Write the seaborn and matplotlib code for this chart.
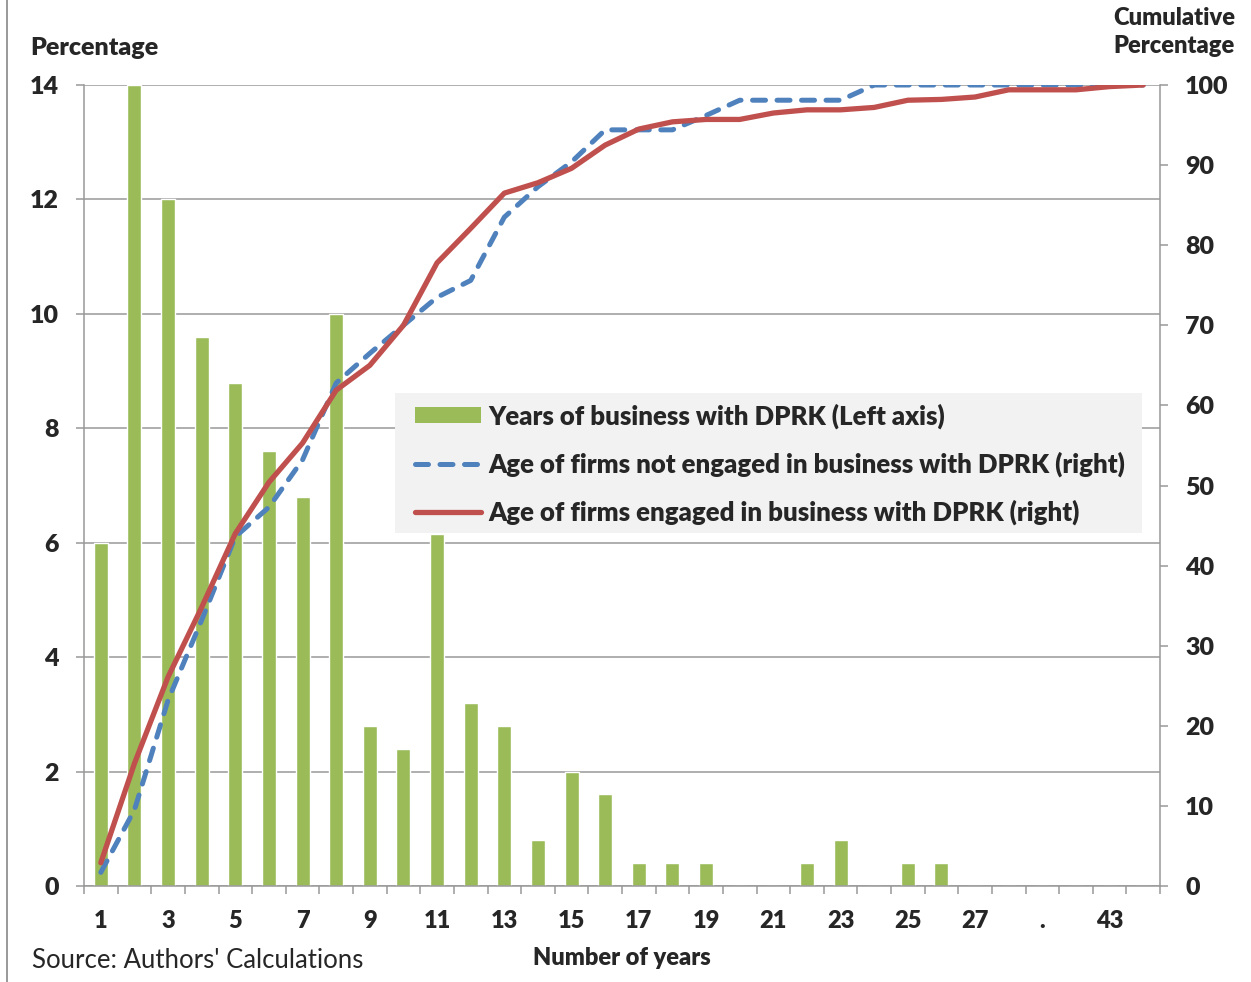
import numpy as np
import pandas as pd
import matplotlib
matplotlib.use("Agg")
import matplotlib.pyplot as plt
from matplotlib.lines import Line2D
from matplotlib.patches import Patch, Rectangle
import seaborn as sns

# categories on the x axis (one per year of age)
years = ["1", "2", "3", "4", "5", "6", "7", "8", "9", "10",
         "11", "12", "13", "14", "15", "16", "17", "18", "19", "20",
         "21", "22", "23", "24", "25", "26", "27", "28", ".", "40",
         "43", "48"]

# years of business with DPRK, % (left axis)
business_pct = [6.0, 14.0, 12.0, 9.6, 8.8, 7.6, 6.8, 10.0, 2.8, 2.4,
                6.15, 3.2, 2.8, 0.8, 2.0, 1.6, 0.4, 0.4, 0.4, 0.0,
                0.0, 0.4, 0.8, 0.0, 0.4, 0.4, 0.0, 0.0, 0.0, 0.0,
                0.0, 0.0]

# cumulative %, firms not engaged (right axis)
not_engaged_cum = [1.7, 9.5, 23.2, 33.2, 43.6, 47.3, 53.2, 62.8, 66.5, 70.0,
                   73.5, 75.6, 83.5, 87.3, 90.4, 94.4, 94.4, 94.4, 96.2, 98.1,
                   98.1, 98.1, 98.1, 100, 100, 100, 100, 100, 100, 100,
                   100, 100]

# cumulative %, firms engaged (right axis)
engaged_cum = [2.9, 15.3, 26.1, 34.8, 44.0, 50.4, 55.3, 61.9, 65.0, 70.0,
               77.8, 82.1, 86.5, 87.8, 89.6, 92.5, 94.5, 95.4, 95.7, 95.7,
               96.5, 96.9, 96.9, 97.2, 98.1, 98.2, 98.5, 99.4, 99.4, 99.4,
               99.8, 100]

GREEN = "#9BBB59"
BLUE = "#4F81BD"
RED = "#C0504D"
GREY = "#989898"
W = "heavy"

sns.set_theme(style="white")
plt.rcParams["font.family"] = ["Lato", "DejaVu Sans"]

df = pd.DataFrame({"year": years, "pos": np.arange(len(years)),
                   "bars": business_pct, "not_eng": not_engaged_cum,
                   "eng": engaged_cum})

fig = plt.figure(figsize=(12.51, 9.82), dpi=100)
ax = fig.add_axes([84 / 1251, 96 / 982, 1076 / 1251, 801 / 982])

sns.barplot(data=df, x="year", y="bars", order=years, color=GREEN,
            saturation=1, width=0.42, ax=ax, zorder=2)

ax2 = ax.twinx()
sns.lineplot(data=df, x="pos", y="not_eng", color=BLUE, lw=3.6,
             dashes=False, ax=ax2, zorder=3, sort=False)
ax2.lines[-1].set_dashes((2.6, 2.3))
ax2.lines[-1].set_dash_capstyle("round")
sns.lineplot(data=df, x="pos", y="eng", color=RED, lw=3.8, ax=ax2,
             zorder=4, sort=False)

# left axis
ax.set_xlim(-0.5, len(years) - 0.5)
ax.set_ylim(0, 14)
ax.set_yticks(np.arange(0, 15, 2))
ax.set_yticklabels([str(v) for v in range(0, 15, 2)], fontweight=W,
                   fontsize=18)
ax.yaxis.grid(True, color=GREY, lw=1.1)
ax.set_axisbelow(True)
ax.tick_params(axis="y", which="major", direction="out", length=6,
               width=1.1, color=GREY, pad=12, left=True)
ax.set_xlabel("")
ax.set_ylabel("")

# x axis: labels on every other category, ticks between categories
ax.set_xticks(np.arange(0, len(years), 2))
ax.set_xticklabels(years[::2], fontweight=W, fontsize=17)
ax.set_xticks(np.arange(-0.5, len(years), 1), minor=True)
ax.tick_params(axis="x", which="major", length=0, pad=17)
ax.tick_params(axis="x", which="minor", direction="out", length=6,
               width=1.1, color=GREY, bottom=True)

for side in ["top", "right"]:
    ax.spines[side].set_visible(False)
for side in ["left", "bottom"]:
    ax.spines[side].set_color(GREY)
    ax.spines[side].set_linewidth(1.1)

# right axis
ax2.set_ylim(0, 100)
ax2.set_yticks(np.arange(0, 101, 10))
ax2.set_yticklabels([str(v) for v in range(0, 101, 10)],
                    fontweight=W, fontsize=18)
ax2.tick_params(axis="y", direction="out", length=6, width=1.1,
                color=GREY, pad=12, right=True)
ax2.set_ylabel("")
ax2.set_xlabel("")
for side in ["top", "left", "bottom"]:
    ax2.spines[side].set_visible(False)
ax2.spines["right"].set_color(GREY)
ax2.spines["right"].set_linewidth(1.1)

# legend on a light grey panel
ax2.add_patch(Rectangle(((395 - 84) / 1076, (886 - 533) / 801),
                        747 / 1076, 140 / 801, transform=ax2.transAxes,
                        facecolor="#F2F2F2", edgecolor="none", zorder=5))
handles = [Patch(facecolor=GREEN, edgecolor="none"),
           Line2D([], [], color=BLUE, lw=3.6, dashes=(2.6, 2.3),
                  dash_capstyle="round"),
           Line2D([], [], color=RED, lw=3.8)]
labels = ["Years of business with DPRK (Left axis)",
          "Age of firms not engaged in business with DPRK (right)",
          "Age of firms engaged in business with DPRK (right)"]
leg = ax2.legend(handles, labels, loc="upper left",
                 bbox_to_anchor=((415 - 84) / 1076, (886 - 403) / 801),
                 frameon=False, borderpad=0, borderaxespad=0,
                 handlelength=2.55, handleheight=0.62, handletextpad=0.3,
                 labelspacing=0.88, prop={"weight": W, "size": 18.5})
leg.set_zorder(6)

# titles and notes
fig.text(30 / 1251, 1 - 48 / 982, "Percentage", fontsize=18,
         fontweight=W, ha="left", va="center")
fig.text(1235 / 1251, 1 - 32 / 982, "Cumulative\nPercentage", fontsize=17,
         fontweight=W, ha="right", va="center", multialignment="right",
         linespacing=1.38)
fig.text(32 / 1251, 1 - 960 / 982, "Source: Authors' Calculations",
         fontsize=18.5, ha="left", va="center")
fig.text(622 / 1251, 1 - 958 / 982, "Number of years", fontsize=17,
         fontweight=W, ha="center", va="center")

# thin frame line at the left edge of the figure
fig.add_artist(Line2D([7 / 1251, 7 / 1251], [0, 1], color="#888888",
                      lw=1.2, transform=fig.transFigure))

fig.savefig("out.png", dpi=100)
